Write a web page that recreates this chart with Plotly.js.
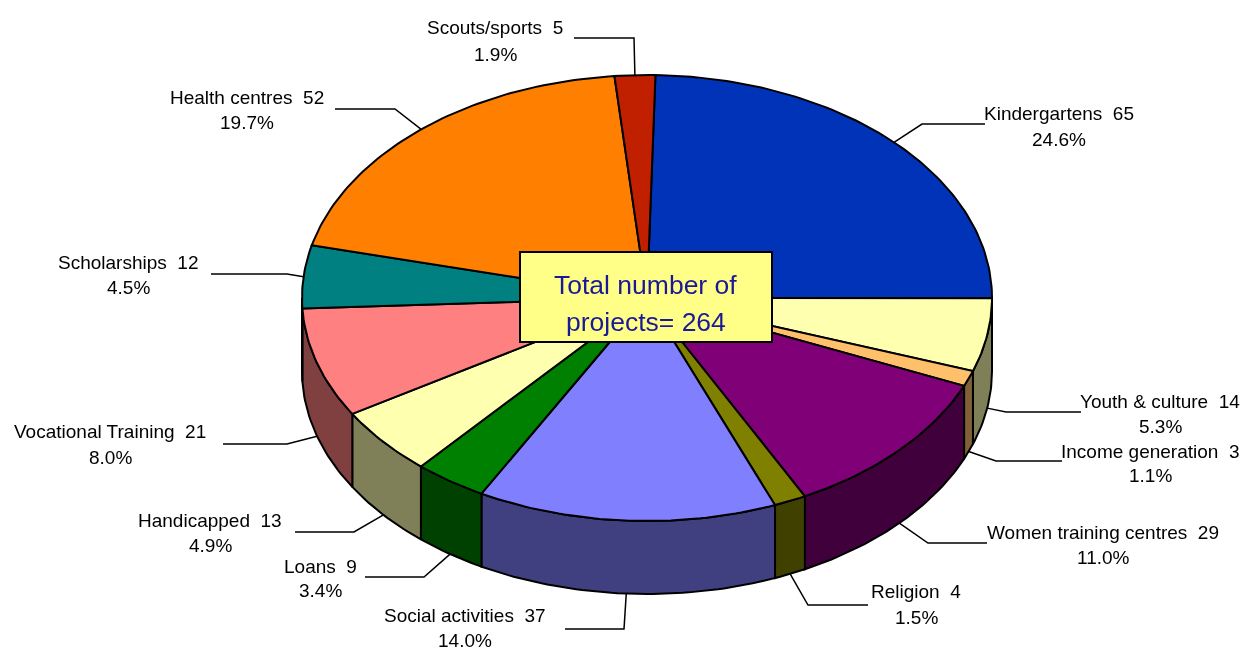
<!DOCTYPE html>
<html><head><meta charset="utf-8">
<script src="https://cdn.plot.ly/plotly-3.0.1.min.js"></script>
<style>html,body{margin:0;padding:0;background:#fff}#chart{width:1243px;height:652px;filter:blur(0.6px)}</style>
</head><body><div id="chart"></div>
<script>
// Data
const categories = ["Kindergartens","Youth & culture","Income generation","Women training centres","Religion","Social activities","Loans","Handicapped","Vocational Training","Scholarships","Health centres","Scouts/sports"];
const projectCounts = [65,14,3,29,4,37,9,13,21,12,52,5];
const totalLines = ["Total number of","projects= 264"];

// Styles
const topColors = ["#0033B8","#FFFFB0","#FFC06C","#800078","#808000","#8080FF","#008000","#FFFFB0","#FF8080","#008080","#FF8000","#C02000"];
const sideColors = ["#001A5C","#808058","#806036","#40003C","#404000","#404080","#004000","#808058","#804040","#004040","#804000","#601000"];

// Layout of the drawing (axis units equal pixels)
const cx = 647, cy = 298, rx = 345, ry = 223, depth = 73, startDeg = 1.4;
const labelX = [1059,1160,1150,1103,916,465,320,210,110,128,246.5,495];
const labelY1 = [113,401,451,532,591,615,566,520,431,262,97,27];
const labelY2 = [139,426,475,557,617,640,590,545,457,287,122,54];
const totalY = [285,322];
const leaderElbows = [
  [[985,124],[922,124]],[[1081,412],[1006,412]],[[1062,461],[996,461]],[[987,543],[928,543]],
  [[868,605],[808,605]],[[565,629],[624,629]],[[365,577],[424,577]],[[295,532],[354,532]],
  [[223,444],[287,444]],[[211,274],[287,274]],[[335,109],[395,109]],[[574,38],[634,38]]
];

const total = projectCounts.reduce((a,b)=>a+b,0);
const pt = (deg,dy=0)=>{const r=deg*Math.PI/180;return [cx+rx*Math.sin(r),cy-ry*Math.cos(r)+dy];};
const arc = (a,b,dy=0)=>{const out=[];const n=Math.max(2,Math.ceil(Math.abs(b-a)));for(let i=0;i<=n;i++)out.push(pt(a+(b-a)*i/n,dy));return out;};
const poly = (pts,fill)=>({type:'scatter',mode:'lines',x:pts.map(p=>p[0]),y:pts.map(p=>p[1]),fill:'toself',fillcolor:fill,line:{color:'#000',width:2},hoverinfo:'skip',showlegend:false});
const label = (x,y,text,size,color)=>({x,y,xref:'x',yref:'y',showarrow:false,xanchor:'center',yanchor:'middle',align:'center',text,font:{family:'Liberation Sans, Arial, sans-serif',size,color}});

const sides=[],tops=[],leaders=[],annotations=[];
let acc=startDeg;
projectCounts.forEach((v,i)=>{
  const a=acc,b=acc+v/total*360;acc=b;
  const lo=Math.max(a,90),hi=Math.min(b,270);
  if(hi>lo){
    const p=arc(lo,hi).concat(arc(lo,hi,depth).reverse());p.push(p[0]);
    sides.push(poly(p,sideColors[i]));
  }
  tops.push(poly([[cx,cy]].concat(arc(a,b),[[cx,cy]]),topColors[i]));
  const mid=(a+b)/2;
  const end=pt(mid,(mid>90&&mid<270)?depth:0);
  const line=leaderElbows[i].concat([end]);
  leaders.push({type:'scatter',mode:'lines',x:line.map(p=>p[0]),y:line.map(p=>p[1]),line:{color:'#000',width:1.5},hoverinfo:'skip',showlegend:false});
  annotations.push(label(labelX[i],labelY1[i],categories[i]+'  '+v,19,'#000'));
  annotations.push(label(labelX[i],labelY2[i],(v/total*100).toFixed(1)+'%',19,'#000'));
});
totalLines.forEach((t,i)=>annotations.push(label(645.5,totalY[i],t,26.5,'#1A1A96')));

Plotly.newPlot('chart',sides.concat(tops,leaders),{
  width:1243,height:652,margin:{l:0,r:0,t:0,b:0},paper_bgcolor:'#fff',plot_bgcolor:'#fff',showlegend:false,
  xaxis:{range:[0,1243],visible:false,fixedrange:true},
  yaxis:{range:[652,0],visible:false,fixedrange:true},
  shapes:[{type:'rect',xref:'x',yref:'y',x0:520,x1:772,y0:252,y1:342,fillcolor:'#FFFF88',line:{color:'#000',width:2},layer:'above'}],
  annotations
},{displayModeBar:false,staticPlot:true});
</script></body></html>
